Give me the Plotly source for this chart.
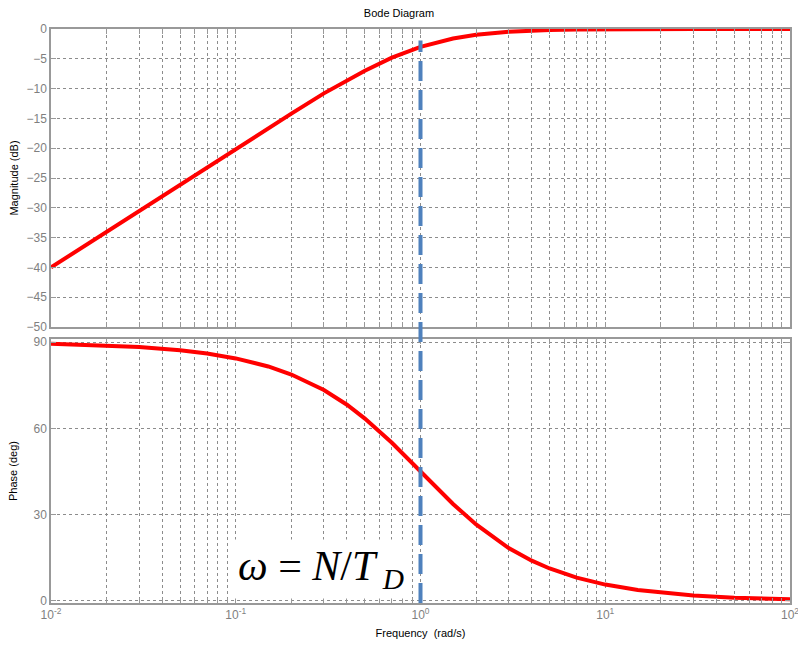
import plotly.graph_objects as go
from plotly.subplots import make_subplots

# Data
freq = [0.01, 0.015, 0.02, 0.03, 0.05, 0.07, 0.1, 0.15, 0.2, 0.3, 0.4, 0.5, 0.7, 1.0,
        1.5, 2.0, 3.0, 4.0, 5.0, 7.0, 10.0, 15.0, 20.0, 30.0, 50.0, 100.0]
mag_db = [-40.0, -36.5, -34.0, -30.5, -26.0, -23.1, -20.0, -16.6, -14.2, -10.8, -8.6, -7.0,
          -4.8, -3.0, -1.6, -0.97, -0.46, -0.26, -0.17, -0.09, -0.04, -0.02, -0.01, 0.0, 0.0, 0.0]
phase_deg = [89.4, 89.1, 88.9, 88.3, 87.1, 86.0, 84.3, 81.5, 78.7, 73.3, 68.2, 63.4,
             55.0, 45.0, 33.7, 26.6, 18.4, 14.0, 11.3, 8.1, 5.7, 3.8, 2.9, 1.9, 1.1, 0.6]

mag_ticks = [0, -5, -10, -15, -20, -25, -30, -35, -40, -45, -50]
phase_ticks = [0, 30, 60, 90]
decades = [-2, -1, 0, 1, 2]
marker_freq = 1.0
formula = "<i>ω</i> = <i>N</i>/<i>T</i><sub> <i>D</i></sub>"

xtickvals = []
xticktext = []
for d in decades:
    for m in range(1, 10):
        if d == 2 and m > 1:
            break
        xtickvals.append(m * 10 ** d)
        xticktext.append(f"10<sup>{d}</sup>" if m == 1 else "")

top_dom = [0.4808, 1.0]
bot_dom = [0.0, 0.4599]

fig = make_subplots(rows=2, cols=1, shared_xaxes=False, vertical_spacing=0.02)

fig.add_trace(go.Scatter(x=freq, y=mag_db, mode="lines",
                         line=dict(color="#ff0000", width=4), showlegend=False), row=1, col=1)
fig.add_trace(go.Scatter(x=freq, y=phase_deg, mode="lines",
                         line=dict(color="#ff0000", width=4), showlegend=False), row=2, col=1)

gridc = "#8c8c8c"
axc = "#999999"
tickfont = dict(family="Liberation Sans, Arial", size=12, color="#7f7f7f")
titlefont = dict(family="Liberation Sans, Arial", size=11, color="#000")

xcommon = dict(type="log", range=[-2, 2], tickvals=xtickvals, ticktext=xticktext,
               showgrid=True, gridcolor=gridc, griddash="3px,3px", gridwidth=1,
               showline=True, linecolor=axc, linewidth=1.5, mirror="ticks",
               ticks="inside", ticklen=5, tickcolor=axc, tickfont=tickfont, zeroline=False,
               automargin=False, ticklabeloverflow="allow")

fig.update_xaxes(**xcommon, domain=[0, 1], row=1, col=1, showticklabels=False)
fig.update_xaxes(**xcommon, domain=[0, 1], row=2, col=1,
                 title=dict(text="Frequency  (rad/s)", font=titlefont, standoff=8))

ycommon = dict(showgrid=True, gridcolor=gridc, griddash="3px,3px", gridwidth=1,
               showline=True, linecolor=axc, linewidth=1.5, mirror="ticks",
               ticks="inside", ticklen=5, tickcolor=axc, tickfont=tickfont, zeroline=False,
               automargin=False, ticklabeloverflow="allow")
fig.update_yaxes(**ycommon, domain=top_dom, range=[-50, 0], tickvals=mag_ticks, row=1, col=1,
                 title=dict(text="Magnitude (dB)", font=titlefont, standoff=6))
fig.update_yaxes(**ycommon, domain=bot_dom, range=[-0.7, 91.04], tickvals=phase_ticks, row=2, col=1,
                 title=dict(text="Phase (deg)", font=titlefont, standoff=14))

# vertical dashed marker across both panels
fig.add_shape(type="line", xref="x", yref="paper", x0=marker_freq, x1=marker_freq, y0=0.0, y1=0.98,
              line=dict(color="#4f81bd", width=4, dash="20px,9px"))

fig.add_annotation(x=-0.54, y=11.0, xref="x2", yref="y2", text=formula, showarrow=False,
                   font=dict(family="Liberation Serif, Times New Roman", size=42, color="#000"),
                   bgcolor="#ffffff", borderpad=3)

fig.update_layout(
    width=798, height=648,
    margin=dict(l=51, r=8, t=29, b=45),
    paper_bgcolor="#ffffff", plot_bgcolor="#ffffff",
    title=dict(text="Bode Diagram", x=0.5, xanchor="center", y=0.985, yanchor="top",
               font=titlefont),
)

fig.write_html("out.html")
